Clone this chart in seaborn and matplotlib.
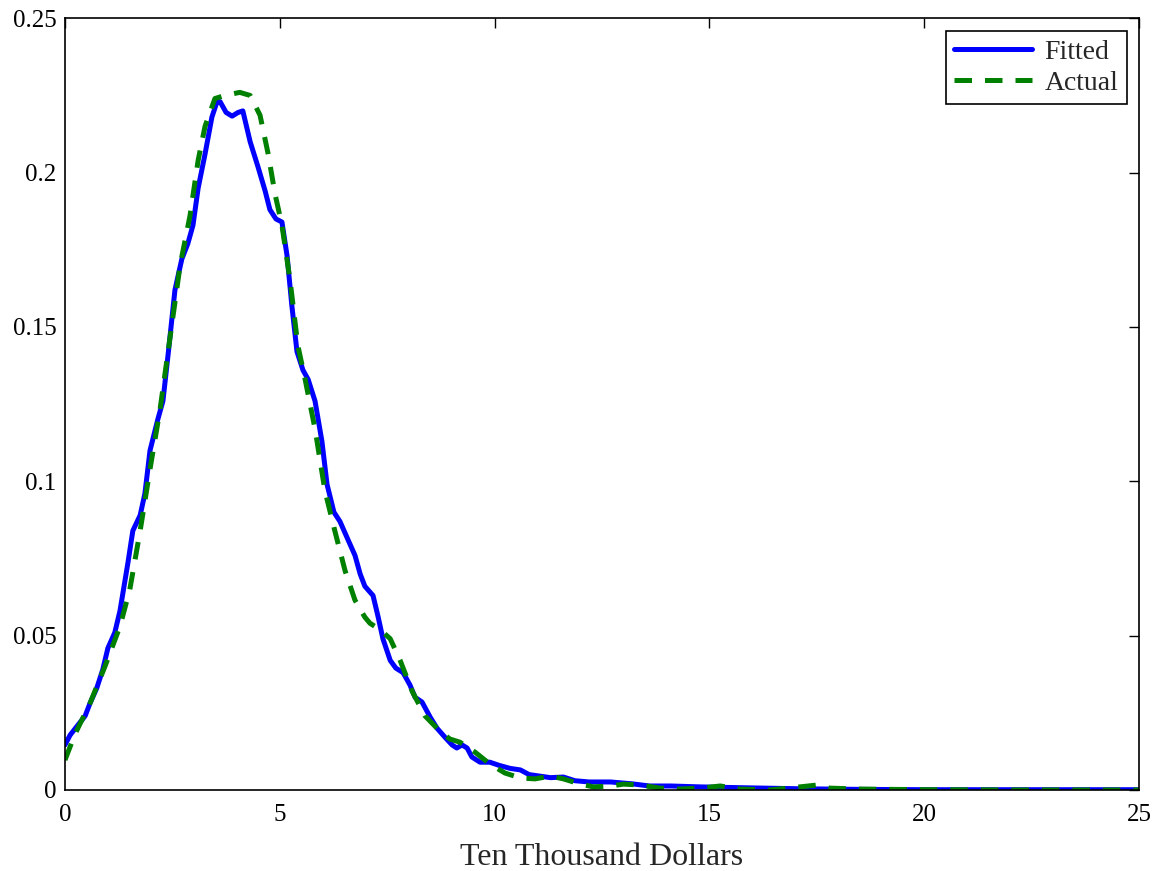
import numpy as np
import pandas as pd
import matplotlib
matplotlib.use("Agg")
import matplotlib.pyplot as plt
import seaborn as sns

fitted_x = [0.0, 0.12, 0.30, 0.47, 0.58, 0.74, 0.88, 1.0, 1.16, 1.28, 1.47, 1.58, 1.75, 1.86, 1.98,
            2.16, 2.28, 2.40, 2.56, 2.72, 2.86, 2.98, 3.10, 3.26, 3.42, 3.54, 3.61, 3.75, 3.89, 4.03,
            4.14, 4.31, 4.49, 4.66, 4.77, 4.91, 5.05, 5.17, 5.28, 5.40, 5.54, 5.66, 5.82, 5.98, 6.10,
            6.26, 6.40, 6.59, 6.75, 6.87, 6.98, 7.17, 7.29, 7.40, 7.57, 7.70, 7.87, 8.03, 8.15, 8.31,
            8.50, 8.66, 8.85, 9.01, 9.12, 9.24, 9.36, 9.47, 9.66, 9.89, 10.1, 10.36, 10.6, 10.8, 11.3,
            11.6, 11.87, 12.2, 12.7, 13.2, 13.6, 14.1, 14.8, 15.9, 17.1, 18.5, 20.0, 22.0, 25.0]
fitted_y = [0.0146, 0.0178, 0.021, 0.024, 0.028, 0.033, 0.039, 0.046, 0.051, 0.058, 0.074, 0.084,
            0.089, 0.096, 0.110, 0.120, 0.126, 0.141, 0.162, 0.172, 0.177, 0.183, 0.195, 0.206, 0.218,
            0.223, 0.223, 0.2195, 0.2183, 0.2195, 0.220, 0.210, 0.202, 0.194, 0.188, 0.185, 0.184,
            0.173, 0.157, 0.142, 0.136, 0.133, 0.126, 0.113, 0.099, 0.090, 0.087, 0.081, 0.076, 0.070,
            0.066, 0.063, 0.056, 0.049, 0.042, 0.0395, 0.038, 0.034, 0.030, 0.0285, 0.0236, 0.020,
            0.017, 0.0146, 0.0136, 0.0146, 0.0136, 0.0107, 0.009, 0.009, 0.008, 0.007, 0.0065, 0.005,
            0.004, 0.0042, 0.003, 0.0026, 0.0026, 0.002, 0.0013, 0.0013, 0.001, 0.0007, 0.0004,
            0.0002, 0.0001, 0.0001, 0.0001]

actual_x = [0.0, 0.23, 0.58, 0.93, 1.28, 1.51, 1.75, 1.98, 2.21, 2.44, 2.68, 2.91, 3.10, 3.26, 3.49,
            3.72, 4.07, 4.31, 4.54, 4.73, 4.89, 5.05, 5.24, 5.42, 5.59, 5.82, 6.05, 6.28, 6.52, 6.75,
            6.98, 7.10, 7.33, 7.57, 7.80, 8.08, 8.38, 8.73, 8.96, 9.19, 9.54, 9.89, 10.24, 10.6, 10.94,
            11.3, 11.6, 12.0, 12.3, 12.7, 13.0, 13.4, 13.85, 14.3, 14.8, 15.25, 15.7, 16.4, 17.1, 17.5,
            17.8, 18.5, 20.0, 22.0, 25.0]
actual_y = [0.0097, 0.018, 0.028, 0.040, 0.053, 0.065, 0.084, 0.104, 0.123, 0.146, 0.170, 0.186,
            0.204, 0.215, 0.224, 0.225, 0.226, 0.225, 0.2186, 0.206, 0.193, 0.183, 0.165, 0.144,
            0.133, 0.117, 0.097, 0.084, 0.071, 0.0615, 0.056, 0.054, 0.052, 0.049, 0.042, 0.032,
            0.024, 0.019, 0.0165, 0.0155, 0.0123, 0.0084, 0.0055, 0.0039, 0.0036, 0.0045, 0.0036,
            0.0019, 0.001, 0.0013, 0.0019, 0.0016, 0.0006, 0.0003, 0.0006, 0.0013, 0.0003, 0.0,
            0.001, 0.0016, 0.0006, 0.0003, 0.0001, 0.0, 0.0]

series_names = ["Fitted", "Actual"]

df = pd.concat([
    pd.DataFrame({"x": fitted_x, "y": fitted_y, "series": series_names[0]}),
    pd.DataFrame({"x": actual_x, "y": actual_y, "series": series_names[1]}),
], ignore_index=True)

sns.set_style("white")
plt.rcParams['font.family'] = ['Liberation Serif', 'DejaVu Serif']

fig = plt.figure(figsize=(11.6, 8.71), dpi=100)
ax = fig.add_axes([0.056, 0.093, 0.926, 0.886])

sns.lineplot(data=df, x="x", y="y", hue="series", style="series",
             palette={"Fitted": "#0000ff", "Actual": "#008000"},
             dashes={"Fitted": "", "Actual": (3.5, 2.6)},
             linewidth=3.6, sort=False, estimator=None, ax=ax, legend=True)

ax.set_xlim(0, 25)
ax.set_ylim(0, 0.25)
ax.set_xticks([0, 5, 10, 15, 20, 25])
ax.set_yticks([0, 0.05, 0.1, 0.15, 0.2, 0.25])
ax.set_yticklabels(["0", "0.05", "0.1", "0.15", "0.2", "0.25"])
ax.set_xlabel("Ten Thousand Dollars", fontsize=23, labelpad=12)
ax.set_ylabel("")
ax.tick_params(direction="in", length=7, width=1, top=True, right=True,
               labelsize=18, colors="black")
ax.tick_params(axis="x", pad=10)
ax.tick_params(axis="y", pad=6)
for s in ax.spines.values():
    s.set_color("black")
    s.set_linewidth(1.2)

leg = ax.legend(loc="upper right", fontsize=20, frameon=True, fancybox=False,
                edgecolor="black", framealpha=1, borderpad=0.3, handlelength=2.8,
                labelspacing=0.22, handletextpad=0.45, borderaxespad=0.45)
leg.get_frame().set_linewidth(1.2)
for line in leg.get_lines():
    line.set_linewidth(3.6)

fig.savefig("out.png", dpi=100)
